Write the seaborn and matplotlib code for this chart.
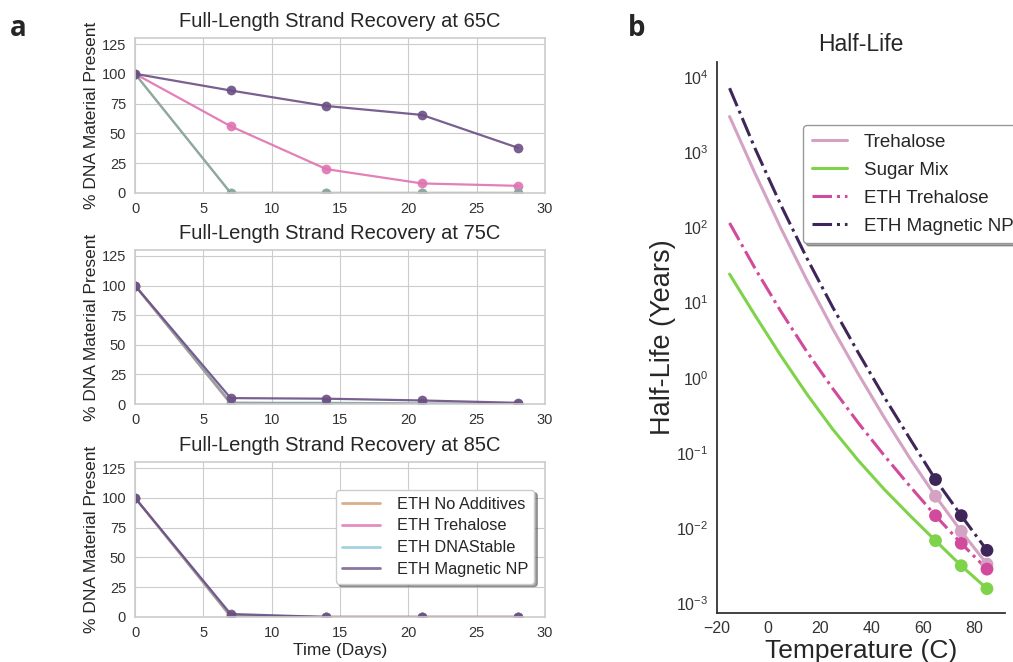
import numpy as np
import pandas as pd
import matplotlib
matplotlib.use("Agg")
import matplotlib.pyplot as plt
import seaborn as sns
from matplotlib.lines import Line2D

# ---------------- data: panel a ----------------
days = [0, 7, 14, 21, 28]
series_names = ["ETH No Additives", "ETH Trehalose", "ETH DNAStable", "ETH Magnetic NP"]
line_colors = ["#cfa47e", "#e072b1", "#84aaa6", "#6b4f84"]
legend_colors = ["#d9ae8a", "#e58cc0", "#a4d2e2", "#8a76a0"]

rec65_no_add = [100, 0, 0, 0, 0]
rec65_trehalose = [100, 56, 20, 8, 6]
rec65_dnastable = [100, 0, 0, 0, 0]
rec65_magnetic = [100, 86, 73, 65.5, 38]

rec75_no_add = [100, 0, 0, 0, 0]
rec75_trehalose = [100, 1, 0.5, 0, 0]
rec75_dnastable = [100, 1, 1, 0.5, 0]
rec75_magnetic = [100, 5, 4.5, 3, 1]

rec85_no_add = [100, 0, 0, 0, 0]
rec85_trehalose = [100, 1, 0, 0, 0]
rec85_dnastable = [100, 1, 0, 0, 0]
rec85_magnetic = [100, 2.5, 0, 0, 0]

panel_temps = ["65C", "75C", "85C"]

# ---------------- data: panel b ----------------
temps = [-15, -5, 5, 15, 25, 35, 45, 55, 65, 75, 85]
hl_trehalose = [2992, 514, 96.8, 20.0, 4.53, 1.125, 0.299, 0.0853, 0.0265, 0.00904, 0.00331]
hl_sugar_mix = [23.9, 6.67, 1.945, 0.608, 0.208, 0.0793, 0.0330, 0.01476, 0.00679, 0.00315, 0.00156]
hl_eth_trehalose = [114.6, 28.1, 7.57, 2.23, 0.723, 0.251, 0.0931, 0.0362, 0.0146, 0.00625, 0.00284]
hl_eth_magnetic = [7129, 1104, 196.3, 39.2, 8.77, 2.153, 0.560, 0.1556, 0.0442, 0.01462, 0.00505]
measured_temps = [65, 75, 85]

hl_names = ["Trehalose", "Sugar Mix", "ETH Trehalose", "ETH Magnetic NP"]
hl_colors = ["#d4a2c2", "#7fd34a", "#d24a9b", "#3f2659"]
hl_styles = ["-", "-", "-.", "-."]

FONT = ["Liberation Sans", "DejaVu Sans"]
TXT = "#262626"

fig = plt.figure(figsize=(10.13, 6.62), dpi=100)

# ---------------- panel a ----------------
rec_sets = [
    [rec65_no_add, rec65_trehalose, rec65_dnastable, rec65_magnetic],
    [rec75_no_add, rec75_trehalose, rec75_dnastable, rec75_magnetic],
    [rec85_no_add, rec85_trehalose, rec85_dnastable, rec85_magnetic],
]
positions = [
    [0.1333, 0.7085, 0.4047, 0.2340],
    [0.1333, 0.3897, 0.4047, 0.2326],
    [0.1333, 0.0680, 0.4047, 0.2340],
]

for i, (recs, pos, ttl) in enumerate(zip(rec_sets, positions, panel_temps)):
    sns.set_style("whitegrid")
    plt.rcParams["font.family"] = FONT
    ax = fig.add_axes(pos)
    rows = []
    for name, vals in zip(series_names, recs):
        for d, v in zip(days, vals):
            rows.append({"day": d, "pct": v, "series": name})
    df = pd.DataFrame(rows)
    for name, col in zip(series_names, line_colors):
        sub = df[df["series"] == name]
        sns.lineplot(data=sub, x="day", y="pct", color=col, marker="o",
                     markersize=7, markeredgewidth=0, linewidth=1.6,
                     alpha=0.9, ax=ax, legend=False)
    ax.set_xlim(0, 30)
    ax.set_ylim(0, 130)
    ax.set_xticks([0, 5, 10, 15, 20, 25, 30])
    ax.set_yticks([0, 25, 50, 75, 100, 125])
    ax.tick_params(labelsize=10.5, colors="#333333", pad=3)
    ax.set_title(f"Full-Length Strand Recovery at {ttl}", fontsize=14.5,
                 color=TXT, pad=8)
    ax.set_ylabel("% DNA Material Present", fontsize=12.5, color=TXT, labelpad=2)
    if i == 2:
        ax.set_xlabel("Time (Days)", fontsize=12.5, color=TXT, labelpad=2)
        handles = [Line2D([0], [0], color=c, lw=2) for c in legend_colors]
        leg = ax.legend(handles, series_names, loc="upper left",
                        bbox_to_anchor=(0.49, 0.82), fontsize=11.8, frameon=True,
                        shadow=True, framealpha=1, handlelength=2.3,
                        handletextpad=1.0, borderpad=0.4, labelspacing=0.42,
                        borderaxespad=0)
        leg.get_frame().set_edgecolor("#cccccc")
    else:
        ax.set_xlabel("")
    for sp in ax.spines.values():
        sp.set_color("#cccccc")
        sp.set_linewidth(1.2)

# ---------------- panel b ----------------
sns.set_style("white")
plt.rcParams["font.family"] = FONT
axb = fig.add_axes([0.7075, 0.074, 0.2846, 0.832])
hl_sets = [hl_trehalose, hl_sugar_mix, hl_eth_trehalose, hl_eth_magnetic]
for name, vals, col, ls in zip(hl_names, hl_sets, hl_colors, hl_styles):
    dfb = pd.DataFrame({"temp": temps, "hl": vals})
    sns.lineplot(data=dfb, x="temp", y="hl", color=col, linestyle=ls,
                 linewidth=2.2, ax=axb, legend=False)
    dfm = dfb[dfb["temp"].isin(measured_temps)]
    sns.scatterplot(data=dfm, x="temp", y="hl", color=col, s=85,
                    edgecolor="none", ax=axb, legend=False, zorder=3)
axb.set_yscale("log")
axb.set_ylim(7.4e-4, 1.58e4)
axb.set_xlim(-20, 92)
axb.set_xticks([-20, 0, 20, 40, 60, 80])
axb.set_yticks([1e-3, 1e-2, 1e-1, 1e0, 1e1, 1e2, 1e3, 1e4])
axb.minorticks_off()
axb.tick_params(labelsize=11.5, colors="#333333", length=0, pad=6)
sns.despine(ax=axb)
for sp in ["left", "bottom"]:
    axb.spines[sp].set_color("#333333")
    axb.spines[sp].set_linewidth(1.3)
axb.set_title("Half-Life", fontsize=16.5, color=TXT, pad=8)
axb.set_xlabel("Temperature (C)", fontsize=19, color=TXT, labelpad=2)
axb.set_ylabel("Half-Life (Years)", fontsize=19.5, color=TXT, labelpad=0)
hb = [Line2D([0], [0], color=c, lw=2.2, linestyle=ls) for c, ls in zip(hl_colors, hl_styles)]
legb = axb.legend(hb, hl_names, loc="upper left", bbox_to_anchor=(0.30, 0.886),
                  fontsize=13.5, frameon=True, shadow=True, framealpha=1,
                  handlelength=1.9, handletextpad=0.9, borderpad=0.45,
                  labelspacing=0.58, borderaxespad=0)
legb.get_frame().set_edgecolor("#999999")

# panel letters
fig.text(0.010, 0.945, "a", fontsize=20, fontweight="bold", family="Open Sans")
fig.text(0.620, 0.945, "b", fontsize=20, fontweight="bold", family="Open Sans")

fig.savefig("out.png", dpi=100)
